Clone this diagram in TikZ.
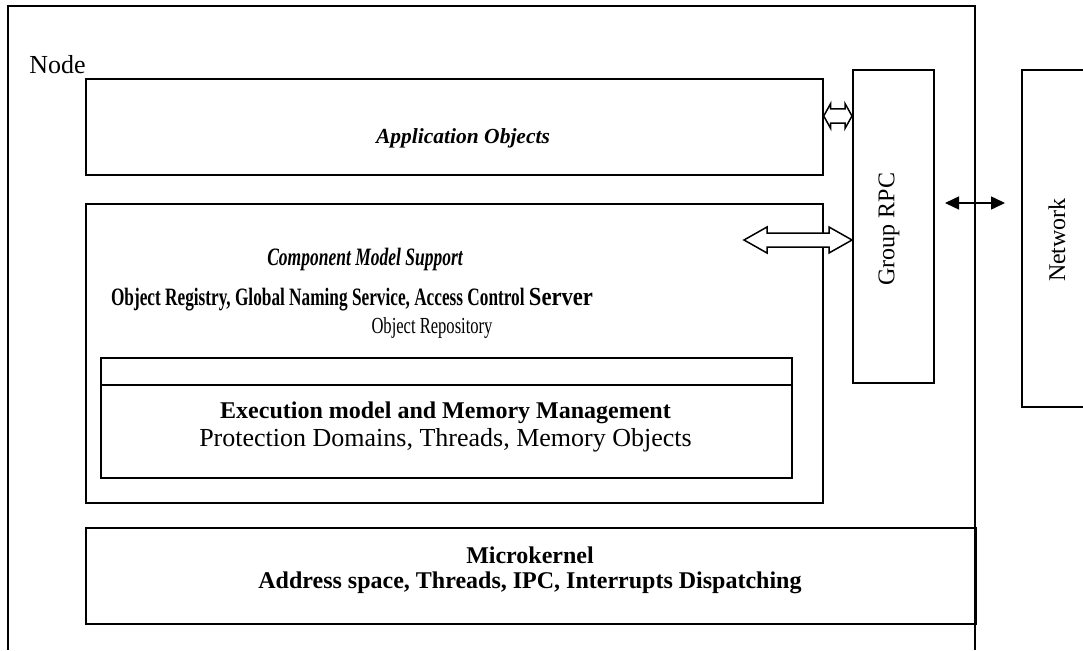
\documentclass[tikz,border=0pt]{standalone}
\usepackage{fontspec}
\setmainfont{Liberation Serif}
\usetikzlibrary{calc,arrows.meta}
\newcommand{\fsz}[1]{\fontsize{#1}{#1}\selectfont}

\begin{document}
\begin{tikzpicture}[x=1pt,y=-1pt,
  frame/.style={draw=black, line width=1.7pt},
  box/.style={draw=black, line width=1.7pt, rectangle, inner sep=0pt, anchor=north west},
  lbl/.style={inner sep=0pt, text=black},
  blockarrow/.style={draw=black, fill=white, line width=1.5pt, line join=miter},
  netarrow/.style={line width=1.5pt, {Triangle[length=14pt,width=13pt]}-{Triangle[length=14pt,width=13pt]}}]
\useasboundingbox (0,0) rectangle (1083,650);
\fill[white] (0,0) rectangle (1083,650);

% node frame, open at the bottom
\draw[frame] (8,650) -- (8,6) -- (975,6) -- (975,650);

% layers
\node[box, minimum width=737pt, minimum height=96pt]  (app)  at (85,78)  {};
\node[box, minimum width=737pt, minimum height=299pt] (cms)  at (85,203) {};
\node[box, minimum width=691pt, minimum height=120pt] (exec) at (100,357) {};
\draw[line width=1.7pt] ($(exec.north west)+(0,28)$) -- ($(exec.north east)+(0,28)$);
\node[box, minimum width=890pt, minimum height=96pt]  (mk)   at (85,527) {};
\node[box, minimum width=81pt,  minimum height=313pt] (rpc)  at (852,69) {};
\node[box, minimum width=80pt,  minimum height=337pt] (net)  at (1021,69) {};

% labels
\node[lbl, font=\fsz{26}] (nodelbl) at (57.5,65) {Node};
\node[lbl, font=\fsz{21.5}\bfseries\itshape] (applbl) at (463,138) {Application Objects};
\node[lbl] (cmslbl) at (365,259) {\fsz{25}\bfseries\itshape\scalebox{.70}[1]{Component Model Support}};
\node[lbl] (reglbl) at (352,300) {\bfseries\fsz{25}\scalebox{.69}[1]{Object Registry, Global Naming Service, Access Control\ }\fsz{26}\scalebox{.87}[1]{Server}};
\node[lbl] (repolbl) at (432,328) {\fsz{23}\scalebox{.72}[1]{Object Repository}};
\node[lbl, font=\fsz{24}\bfseries] (execlbl) at (445.5,413) {Execution model and Memory Management};
\node[lbl, font=\fsz{26}] (protlbl) at (445.5,440) {Protection Domains, Threads, Memory Objects};
\node[lbl, font=\fsz{24}\bfseries] (mklbl) at (530,555) {Microkernel};
\node[lbl, font=\fsz{24}\bfseries] (addrlbl) at (530,583) {Address space, Threads, IPC, Interrupts Dispatching};
\node[lbl, font=\fsz{24}, rotate=90] (rpclbl) at (889,229) {Group RPC};
\node[lbl, font=\fsz{24}, rotate=90] (netlbl) at (1057,240) {Network};

% application objects <-> group RPC
\draw[blockarrow] let \p1=($(app.north east)+(0,38)$), \p2=(rpc.west) in
  (\x1,\y1) -- (\x1+7pt,\y1+12.5pt) -- (\x1+7pt,\y1+7pt) -- (\x2-7pt,\y1+7pt)
  -- (\x2-7pt,\y1+12.5pt) -- (\x2,\y1) -- (\x2-7pt,\y1-12.5pt) -- (\x2-7pt,\y1-7pt)
  -- (\x1+7pt,\y1-7pt) -- (\x1+7pt,\y1-12.5pt) -- cycle;

% component model support <-> group RPC
\coordinate (cmsport) at (744,240);
\draw[blockarrow] let \p1=(cmsport), \p2=(rpc.west) in
  (\x1,\y1) -- (\x1+23pt,\y1+13pt) -- (\x1+23pt,\y1+7pt) -- (\x2-23pt,\y1+7pt)
  -- (\x2-23pt,\y1+13pt) -- (\x2,\y1) -- (\x2-23pt,\y1-13pt) -- (\x2-23pt,\y1-7pt)
  -- (\x1+23pt,\y1-7pt) -- (\x1+23pt,\y1-13pt) -- cycle;

% node <-> network
\coordinate (netL) at (945,203);
\coordinate (netR) at (1005,203);
\draw[netarrow] (netL) -- (netR);
\end{tikzpicture}
\end{document}
